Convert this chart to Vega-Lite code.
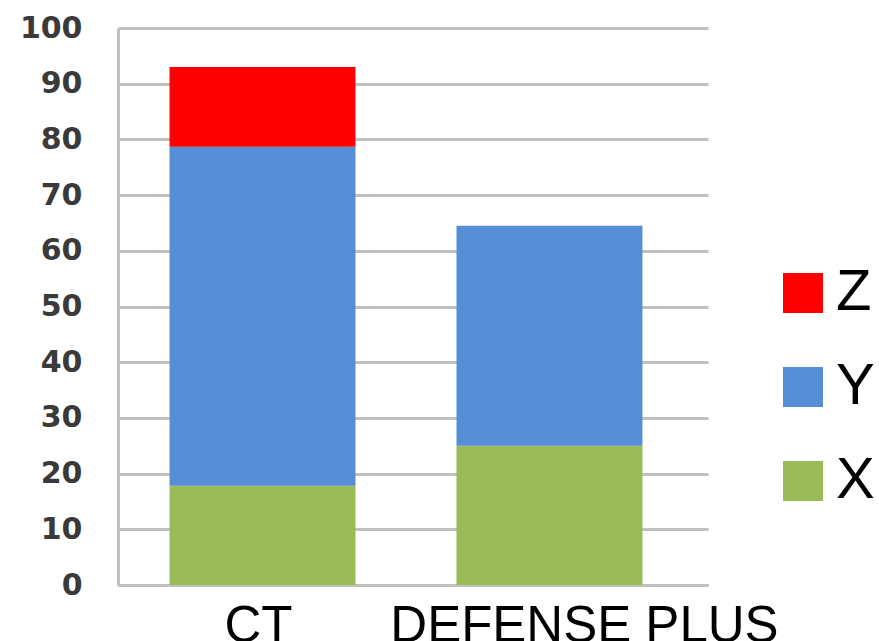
{
  "$schema": "https://vega.github.io/schema/vega-lite/v6.json",
  "width": 590,
  "height": 557,
  "autosize": {"type": "none"},
  "padding": {"left": 118, "top": 28, "right": 171, "bottom": 56},
  "background": "white",
  "config": {"view": {"stroke": null}},
  "data": {
    "values": [
      {"product": "CT", "series": "X", "value": 17.8},
      {"product": "CT", "series": "Y", "value": 60.9},
      {"product": "CT", "series": "Z", "value": 14.3},
      {"product": "DEFENSE PLUS", "series": "X", "value": 25.0},
      {"product": "DEFENSE PLUS", "series": "Y", "value": 39.5}
    ]
  },
  "mark": {"type": "bar"},
  "encoding": {
    "x": {
      "field": "product",
      "type": "nominal",
      "sort": ["CT", "DEFENSE PLUS"],
      "scale": {"paddingInner": 0.352, "paddingOuter": 0.204, "align": 0.44},
      "axis": {
        "title": null,
        "labelAngle": 0,
        "labelFont": "Liberation Sans",
        "labelFontSize": 51,
        "labelColor": "black",
        "labelBaseline": "top",
        "ticks": false,
        "labelPadding": 16,
        "labelOverlap": false,
        "labelLimit": 0,
        "domainColor": "#C0C0C0",
        "domainWidth": 3,
        "labelOffset": {"expr": "datum.value == 'DEFENSE PLUS' ? 35 : -4"}
      }
    },
    "y": {
      "field": "value",
      "type": "quantitative",
      "scale": {"domain": [0, 100], "nice": false},
      "axis": {
        "title": null,
        "values": [0, 10, 20, 30, 40, 50, 60, 70, 80, 90, 100],
        "grid": true,
        "gridColor": "#C0C0C0",
        "gridWidth": 3,
        "domainColor": "#C0C0C0",
        "domainWidth": 3,
        "ticks": false,
        "labelPadding": 36,
        "labelFlush": false,
        "labelFont": "DejaVu Sans",
        "labelFontWeight": "bold",
        "labelFontSize": 30,
        "labelColor": "#3a3a3a"
      }
    },
    "color": {
      "field": "series",
      "type": "nominal",
      "scale": {"domain": ["Z", "Y", "X"], "range": ["#FF0000", "#558ED5", "#9BBB59"]},
      "legend": {
        "title": null,
        "orient": "none",
        "legendX": 656,
        "legendY": 236,
        "symbolType": "square",
        "symbolSize": 1600,
        "symbolStrokeWidth": 0,
        "labelFont": "Liberation Sans",
        "labelFontSize": 58,
        "labelColor": "black",
        "labelOffset": 4,
        "rowPadding": 36
      }
    },
    "order": {"field": "series", "sort": "ascending"}
  }
}
